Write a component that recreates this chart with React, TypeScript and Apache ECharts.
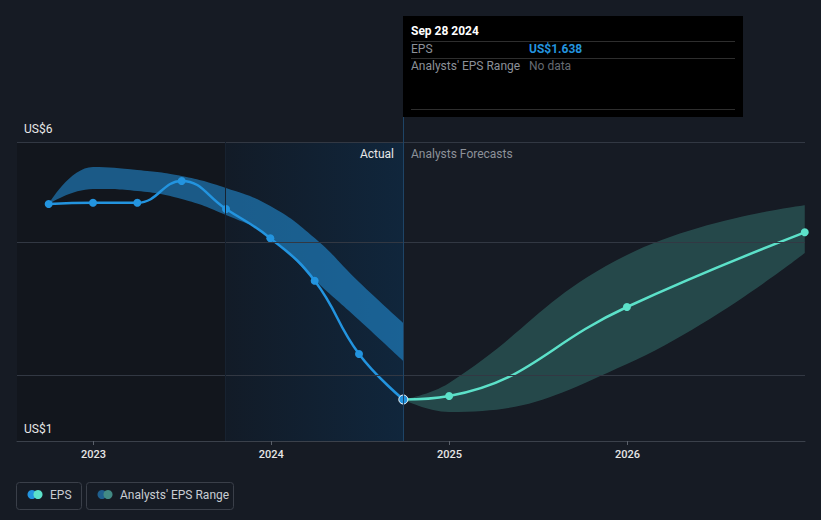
import React, { useEffect, useRef } from "react";
import * as echarts from "echarts";

// ---- data ----
const actualDates = ["2022-10-01", "2022-12-31", "2023-04-01", "2023-07-01", "2023-09-30", "2023-12-30", "2024-03-30", "2024-06-29", "2024-09-28"];
const actualEps = [4.95, 4.97, 4.97, 5.34, 4.865, 4.37, 3.65, 2.41, 1.638];
const pastRangeUpper = [4.95, 5.576, 5.526, 5.424, 5.22, 4.916, 4.374, 3.628, 2.934];
const pastRangeLower = [4.95, 5.204, 5.17, 5.034, 4.763, 4.39, 3.662, 2.985, 2.29];

const forecastDates = ["2024-09-28", "2024-12-31", "2025-12-31", "2026-12-31"];
const forecastEps = [1.638, 1.697, 3.205, 4.47];
const forecastUpper = [1.638, 1.917, 4.086, 4.93];
const forecastLower = [1.638, 1.426, 2.239, 4.12];

const yearTicks = [2023, 2024, 2025, 2026];
const gridValues = [6, 4.31, 2.05];
const yLabels = ["US$6", "US$1"];
const actualStart = "2023-09-28";
const actualEnd = "2024-09-28";

const FONT = "Roboto, 'Noto Sans', sans-serif";
const BLUE = "#2394df";
const TEAL = "#5ce1c9";

export default function App() {
  const ref = useRef<HTMLDivElement>(null);
  useEffect(() => {
    if (!ref.current) return;
    const chart = echarts.init(ref.current, null, { renderer: "svg" });
    const isYearTick = (v: number) => {
      const d = new Date(v);
      return d.getMonth() === 0 && d.getDate() === 1 && d.getHours() === 0 && yearTicks.indexOf(d.getFullYear()) >= 0;
    };
    const pair = (d: string[], v: number[]) => d.map((x, i) => [x, v[i]]);
    const diff = (d: string[], a: number[], b: number[]) => d.map((x, i) => [x, +(a[i] - b[i]).toFixed(4)]);

    const option: any = {
      animation: false,
      backgroundColor: "#161b24",
      grid: { left: 17, right: 16, top: 142, bottom: 79 },
      xAxis: {
        type: "time",
        min: "2022-07-28",
        max: "2026-12-31 12:00:00",
        minInterval: 365 * 24 * 3600 * 1000,
        axisLine: { lineStyle: { color: "#3b414b", width: 1 } },
        axisTick: {
          show: true,
          length: 4,
          lineStyle: { color: "#5a606a" },
        },
        axisLabel: {
          formatter: (v: number) => (isYearTick(v) ? String(new Date(v).getFullYear()) : ""),
          color: "#e6e6e6",
          fontSize: 11,
          fontWeight: 500,
          fontFamily: FONT,
          margin: 8,
          showMinLabel: false,
          showMaxLabel: false,
          hideOverlap: false,
        },
        splitLine: { show: false },
      },
      yAxis: {
        type: "value",
        min: 0.935,
        max: 6,
        show: false,
        splitLine: { show: false },
      },
      series: [
        {
          type: "line",
          name: "bg",
          z: 0,
          silent: true,
          data: pair(actualDates, actualEps),
          showSymbol: false,
          lineStyle: { opacity: 0 },
          markArea: {
            silent: true,
            data: [
              [{ xAxis: "2022-07-28", itemStyle: { color: "#12161d" } }, { xAxis: actualStart }],
              [
                {
                  xAxis: actualStart,
                  itemStyle: {
                    color: {
                      type: "linear", x: 0, y: 0, x2: 1, y2: 0,
                      colorStops: [
                        { offset: 0, color: "#121b27" },
                        { offset: 1, color: "#10263c" },
                      ],
                    },
                  },
                },
                { xAxis: actualEnd },
              ],
            ],
          },
        },
        {
          type: "line",
          name: "lines",
          z: 1,
          silent: true,
          data: pair(actualDates, actualEps),
          showSymbol: false,
          lineStyle: { opacity: 0 },
          markLine: {
            silent: true,
            symbol: ["none", "none"],
            label: { show: false },
            data: [
              ...gridValues.map((v) => ({ yAxis: v, lineStyle: { color: "#323843", width: 1, type: "solid" } })),
              { xAxis: actualStart, lineStyle: { color: "#172230", width: 1, type: "solid" } },
              { xAxis: actualEnd, lineStyle: { color: "#1e4466", width: 1, type: "solid" } },
            ],
          },
        },
        {
          type: "line",
          name: "pastLower",
          stack: "past",
          z: 2,
          silent: true,
          smooth: 0.45,
          data: pair(actualDates, pastRangeLower),
          showSymbol: false,
          lineStyle: { opacity: 0 },
        },
        {
          type: "line",
          name: "pastBand",
          stack: "past",
          z: 2,
          silent: true,
          smooth: 0.45,
          data: diff(actualDates, pastRangeUpper, pastRangeLower),
          showSymbol: false,
          lineStyle: { opacity: 0 },
          areaStyle: { color: "rgba(35,148,223,0.55)", opacity: 1 },
        },
        {
          type: "line",
          name: "foreLower",
          stack: "fore",
          z: 2,
          silent: true,
          smooth: 0.45,
          data: pair(forecastDates, forecastLower),
          showSymbol: false,
          lineStyle: { opacity: 0 },
        },
        {
          type: "line",
          name: "foreBand",
          stack: "fore",
          z: 2,
          silent: true,
          smooth: 0.45,
          data: diff(forecastDates, forecastUpper, forecastLower),
          showSymbol: false,
          lineStyle: { opacity: 0 },
          areaStyle: { color: "rgba(92,225,201,0.23)", opacity: 1 },
        },
        {
          type: "line",
          name: "EPS forecast",
          z: 3,
          smooth: 0.45,
          data: pair(forecastDates, forecastEps).map((p, i) =>
            i === 0 ? { value: p, symbolSize: 0 } : { value: p }
          ),
          symbol: "circle",
          symbolSize: 8,
          itemStyle: { color: TEAL },
          lineStyle: { color: TEAL, width: 2.5 },
        },
        {
          type: "line",
          name: "EPS",
          z: 4,
          smooth: 0.45,
          data: pair(actualDates, actualEps).map((p, i, arr) =>
            i === arr.length - 1
              ? { value: p, symbolSize: 9, itemStyle: { color: BLUE, borderColor: "#ffffff", borderWidth: 1 } }
              : { value: p }
          ),
          symbol: "circle",
          symbolSize: 8,
          itemStyle: { color: BLUE },
          lineStyle: { color: BLUE, width: 2.5 },
        },
      ],
      graphic: [
        { type: "text", z: 100, left: 24, top: 123, style: { text: yLabels[0], fill: "#e8e8e8", font: `12px ${FONT}` } },
        { type: "text", z: 100, left: 24, top: 423, style: { text: yLabels[1], fill: "#e8e8e8", font: `12px ${FONT}` } },
        { type: "line", z: 100, shape: { x1: 403.5, y1: 117, x2: 403.5, y2: 142 }, style: { stroke: "#1e4466", lineWidth: 1 } },
        { type: "text", z: 100, x: 394, y: 154, style: { text: "Actual", fill: "#e8e8e8", font: `12px ${FONT}`, textAlign: "right", textVerticalAlign: "middle" } },
        { type: "text", z: 100, x: 411, y: 154, style: { text: "Analysts Forecasts", fill: "#8c9199", font: `12px ${FONT}`, textAlign: "left", textVerticalAlign: "middle" } },
        // tooltip box
        { type: "rect", z: 100, shape: { x: 403, y: 16, width: 340, height: 101 }, style: { fill: "#000000" } },
        { type: "text", z: 101, x: 411, y: 31, style: { text: "Sep 28 2024", fill: "#ffffff", font: `bold 12px ${FONT}`, textVerticalAlign: "middle" } },
        { type: "line", z: 101, shape: { x1: 411, y1: 41.5, x2: 735, y2: 41.5 }, style: { stroke: "#2e2e2e", lineWidth: 1 } },
        { type: "text", z: 101, x: 411, y: 49, style: { text: "EPS", fill: "#8c9199", font: `12px ${FONT}`, textVerticalAlign: "middle" } },
        { type: "text", z: 101, x: 529, y: 49, style: { text: "US$1.638", fill: BLUE, font: `bold 12px ${FONT}`, textVerticalAlign: "middle" } },
        { type: "line", z: 101, shape: { x1: 411, y1: 58.5, x2: 735, y2: 58.5 }, style: { stroke: "#2e2e2e", lineWidth: 1 } },
        { type: "text", z: 101, x: 411, y: 66, style: { text: "Analysts' EPS Range", fill: "#8c9199", font: `12px ${FONT}`, textVerticalAlign: "middle" } },
        { type: "text", z: 101, x: 529, y: 66, style: { text: "No data", fill: "#666b72", font: `12px ${FONT}`, textVerticalAlign: "middle" } },
        { type: "line", z: 101, shape: { x1: 411, y1: 109.5, x2: 735, y2: 109.5 }, style: { stroke: "#2e2e2e", lineWidth: 1 } },
        // legend
        { type: "rect", z: 100, shape: { x: 16.5, y: 482.5, width: 65, height: 27, r: 3 }, style: { fill: "none", stroke: "#3a3f49", lineWidth: 1 } },
        { type: "circle", z: 100, shape: { cx: 32, cy: 494.5, r: 4.5 }, style: { fill: BLUE } },
        { type: "circle", z: 101, shape: { cx: 38, cy: 494.5, r: 4.5 }, style: { fill: TEAL } },
        { type: "text", z: 100, x: 50, y: 494.5, style: { text: "EPS", fill: "#c9cdd3", font: `12px ${FONT}`, textVerticalAlign: "middle" } },
        { type: "rect", z: 100, shape: { x: 86.5, y: 482.5, width: 147, height: 27, r: 3 }, style: { fill: "none", stroke: "#3a3f49", lineWidth: 1 } },
        { type: "circle", z: 100, shape: { cx: 102, cy: 494.5, r: 4.5 }, style: { fill: "#1f5f8e" } },
        { type: "circle", z: 101, shape: { cx: 108, cy: 494.5, r: 4.5 }, style: { fill: "#428a84" } },
        { type: "text", z: 100, x: 120, y: 494.5, style: { text: "Analysts' EPS Range", fill: "#c9cdd3", font: `12px ${FONT}`, textVerticalAlign: "middle" } },
      ],
    };
    chart.setOption(option);
    return () => chart.dispose();
  }, []);
  return <div ref={ref} style={{ position: "fixed", left: 0, top: 0, width: 821, height: 520 }} />;
}
